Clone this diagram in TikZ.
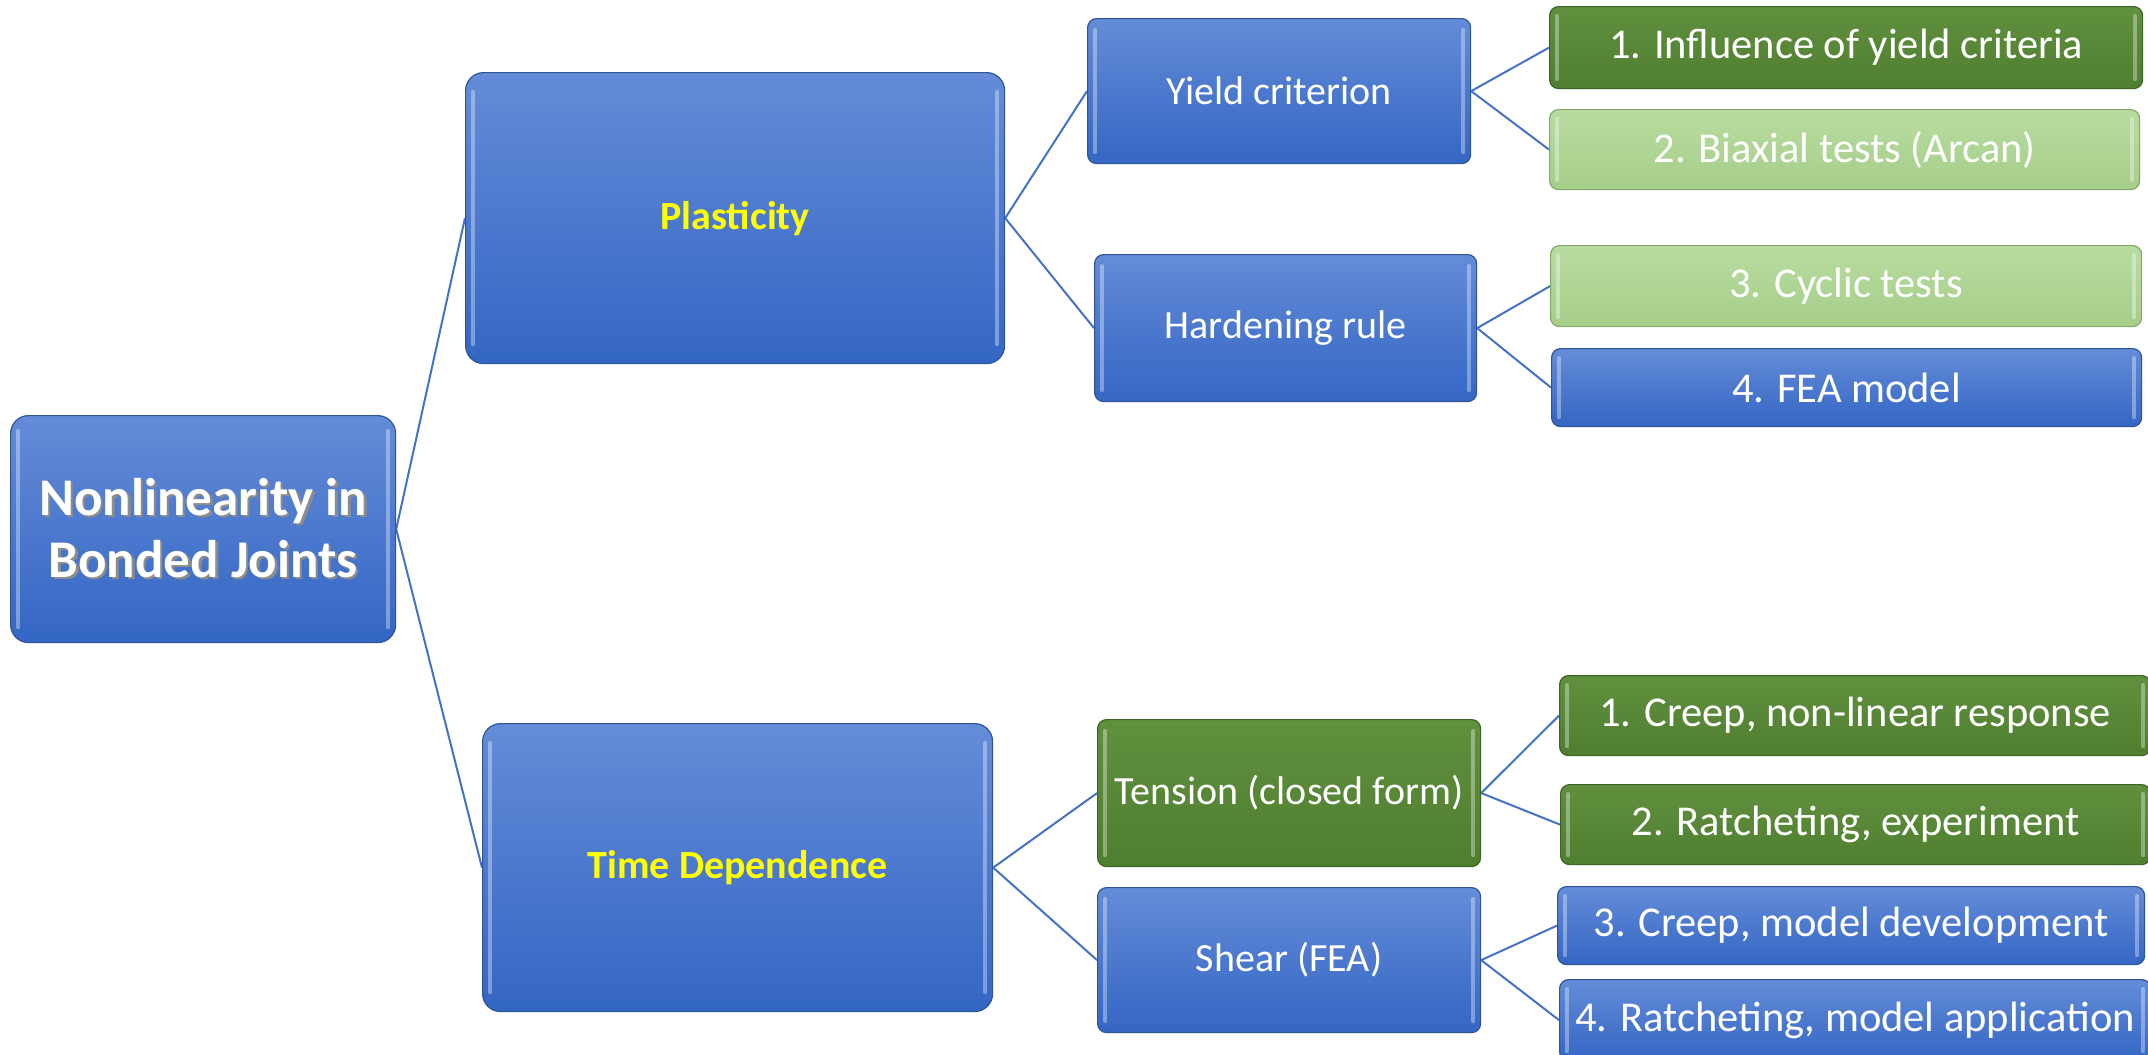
\documentclass[tikz,border=0pt]{standalone}
\usepackage{fontspec}
\setmainfont{Carlito}
\pgfdeclarelayer{bg}
\pgfsetlayers{bg,main}
\definecolor{bluetop}{RGB}{100,140,216}
\definecolor{bluebot}{RGB}{52,102,196}
\definecolor{blueedge}{RGB}{47,85,151}
\definecolor{dgtop}{RGB}{96,144,62}
\definecolor{dgbot}{RGB}{80,126,48}
\definecolor{dgedge}{RGB}{60,100,38}
\definecolor{lgtop}{RGB}{184,220,160}
\definecolor{lgbot}{RGB}{166,206,138}
\definecolor{lgedge}{RGB}{130,170,105}
\definecolor{conncol}{RGB}{68,114,196}
\definecolor{ttlyellow}{RGB}{255,255,0}
\newcommand\shadowed[1]{\makebox[0pt][l]{\hspace{2.5pt}\raisebox{-2.5pt}{\textcolor{black!45}{#1}}}#1}
\tikzset{
 box/.style={draw=blueedge, line width=1.2pt, top color=bluetop, bottom color=bluebot,
   anchor=north west, inner sep=0pt, rounded corners=9pt, text=white, align=center,
   font=\fontsize{40}{48}\selectfont},
 leaf/.style={font=\fontsize{42.5}{50}\selectfont},
 dg/.style={draw=dgedge, top color=dgtop, bottom color=dgbot},
 lg/.style={draw=lgedge, top color=lgtop, bottom color=lgbot},
 big/.style={rounded corners=18pt},
 ttl/.style={text=ttlyellow, font=\bfseries\fontsize{40}{48}\selectfont},
 conn/.style={draw=conncol, line width=2pt},
 hl/.style={draw=white, opacity=0.35, line width=4pt, line cap=round},
}
\begin{document}
\begin{tikzpicture}[x={(1pt,0)}, y={(0,-1pt)}]
\useasboundingbox (0,0) rectangle (2148,1055);

\node[box,big,minimum width=385pt,minimum height=227pt,
      font=\bfseries\fontsize{53}{62}\selectfont] (root) at (10,415)
      {\shadowed{Nonlinearity in}\\\shadowed{Bonded Joints}};

\node[box,big,ttl,minimum width=539pt,minimum height=291pt] (pl) at (465,72) {Plasticity};
\node[box,big,ttl,minimum width=510pt,minimum height=288pt] (td) at (482,723) {Time Dependence};

\node[box,minimum width=383pt,minimum height=145pt] (yc) at (1087,18) {Yield criterion};
\node[box,minimum width=382pt,minimum height=147pt] (hr) at (1094,254) {Hardening rule};
\node[box,dg,minimum width=383pt,minimum height=147pt] (tc) at (1097,719) {Tension (closed form)};
\node[box,minimum width=383pt,minimum height=145pt] (sh) at (1097,887) {Shear (FEA)};

\node[box,leaf,dg,minimum width=593pt,minimum height=82pt] (l1) at (1549,6) {1. Influence of yield criteria};
\node[box,leaf,lg,minimum width=590pt,minimum height=80pt] (l2) at (1549,109) {2. Biaxial tests (Arcan)};
\node[box,leaf,lg,minimum width=591pt,minimum height=81pt] (l3) at (1550,245) {3. Cyclic tests};
\node[box,leaf,minimum width=590pt,minimum height=78pt] (l4) at (1551,348) {4. FEA model};

\node[box,leaf,dg,minimum width=591pt,minimum height=80pt] (t1) at (1559,675) {1. Creep, non-linear response};
\node[box,leaf,dg,minimum width=590pt,minimum height=80pt] (t2) at (1560,784) {2. Ratcheting, experiment};
\node[box,leaf,minimum width=587pt,minimum height=78pt] (t3) at (1557,886) {3. Creep, model development};
\node[box,leaf,minimum width=591pt,minimum height=81pt] (t4) at (1559,979) {4. Ratcheting, model application};

\foreach \n/\s in {root/16,pl/20,td/20,yc/12,hr/12,tc/12,sh/12,l1/10,l2/10,l3/10,l4/10,t1/10,t2/10,t3/10,t4/10}{
  \draw[hl] ([xshift=8pt,yshift=-\s pt]\n.north west) -- ([xshift=8pt,yshift=\s pt]\n.south west);
  \draw[hl] ([xshift=-8pt,yshift=-\s pt]\n.north east) -- ([xshift=-8pt,yshift=\s pt]\n.south east);
}

\begin{pgfonlayer}{bg}
\fill[white] (0,0) rectangle (2148,1055);
\draw[conn] (root.east) -- (pl.west);
\draw[conn] (root.east) -- (td.west);
\draw[conn] (pl.east) -- (yc.west);
\draw[conn] (pl.east) -- (hr.west);
\draw[conn] (td.east) -- (tc.west);
\draw[conn] (td.east) -- (sh.west);
\draw[conn] (yc.east) -- (l1.west);
\draw[conn] (yc.east) -- (l2.west);
\draw[conn] (hr.east) -- (l3.west);
\draw[conn] (hr.east) -- (l4.west);
\draw[conn] (tc.east) -- (t1.west);
\draw[conn] (tc.east) -- (t2.west);
\draw[conn] (sh.east) -- (t3.west);
\draw[conn] (sh.east) -- (t4.west);
\end{pgfonlayer}
\end{tikzpicture}
\end{document}
